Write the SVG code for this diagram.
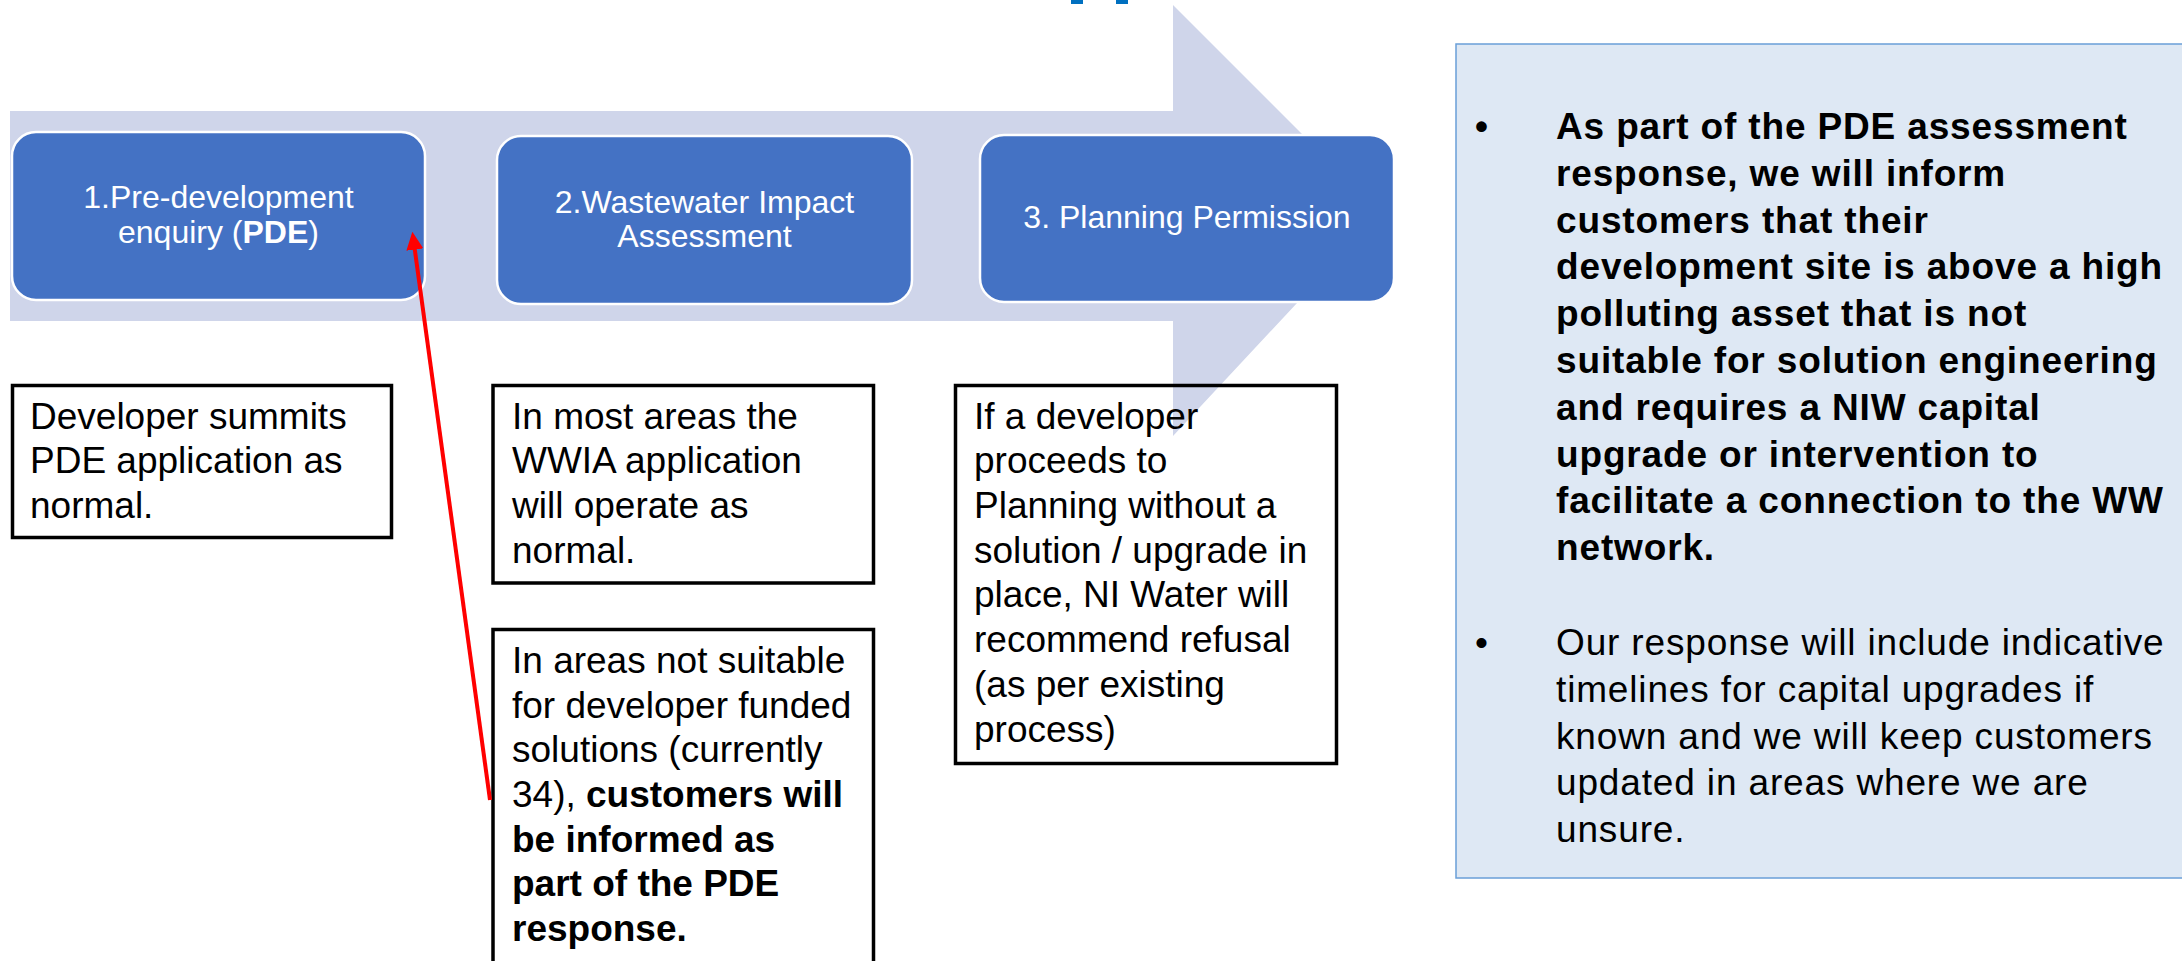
<svg xmlns="http://www.w3.org/2000/svg" width="2182" height="961" viewBox="0 0 2182 961">
<style>
.step{fill:#4472C4;stroke:#ffffff;stroke-width:2.5}
.stept{font-family:"Liberation Sans",Arial,sans-serif;font-size:32px;fill:#ffffff;text-anchor:middle}
.note{fill:none;stroke:#000000;stroke-width:3.5}
.notet{font-family:"Liberation Sans",Arial,sans-serif;font-size:37px;fill:#000000}
.b{font-weight:bold}
.panel{fill:#DEE8F4;stroke:#6A9FD8;stroke-width:1.5}
.panelt{font-family:"Liberation Sans",Arial,sans-serif;font-size:37px;fill:#000000;letter-spacing:0.85px}
.conn{stroke:#FF0000;stroke-width:4;fill:none}
.frag{fill:#0070C0}
</style>
<defs>
<marker id="redhead" markerUnits="userSpaceOnUse" markerWidth="18" markerHeight="17" refX="8" refY="8.5" orient="auto">
<path d="M0,0 L18,8.5 L0,17 Z" fill="#FF0000"/>
</marker>
</defs>
<rect width="2182" height="961" fill="#ffffff"/>
<g id="title-fragment">
<rect class="frag" x="1071" y="0" width="12" height="4"/>
<rect class="frag" x="1116" y="0" width="12" height="4"/>
</g>
<g id="process-arrow">
<polygon points="10,111 1173,111 1173,5 1381,213 1173,436 1173,321 10,321" fill="#CFD5EA"/>
</g>
<g id="step1">
<rect class="step" x="12" y="132" width="413" height="168" rx="24"/>
<text class="stept" x="218.5" y="208.3">1.Pre-development</text>
<text class="stept" x="218.5" y="242.7">enquiry (<tspan class="b">PDE</tspan>)</text>
</g>
<g id="step2">
<rect class="step" x="497" y="136" width="415" height="168" rx="24"/>
<text class="stept" x="704.5" y="212.7">2.Wastewater Impact</text>
<text class="stept" x="704.5" y="246.7">Assessment</text>
</g>
<g id="step3">
<rect class="step" x="980" y="135" width="414" height="167" rx="24"/>
<text class="stept" x="1187" y="228.3">3. Planning Permission</text>
</g>
<g id="note-pde">
<rect class="note" x="12.5" y="385.5" width="379" height="152"/>
<text class="notet" x="30" y="428.6">Developer summits</text>
<text class="notet" x="30" y="473.3">PDE application as</text>
<text class="notet" x="30" y="518">normal.</text>
</g>
<g id="note-wwia">
<rect class="note" x="493" y="385.5" width="380.5" height="197.5"/>
<text class="notet" x="512" y="428.6">In most areas the</text>
<text class="notet" x="512" y="473.3">WWIA application</text>
<text class="notet" x="512" y="518">will operate as</text>
<text class="notet" x="512" y="562.7">normal.</text>
</g>
<g id="note-unsuitable">
<rect class="note" x="493" y="629.5" width="380.5" height="345"/>
<text class="notet" x="512" y="672.9">In areas not suitable</text>
<text class="notet" x="512" y="717.6">for developer funded</text>
<text class="notet" x="512" y="762.3">solutions (currently</text>
<text class="notet" x="512" y="807">34), <tspan class="b">customers will</tspan></text>
<text class="notet b" x="512" y="851.7">be informed as</text>
<text class="notet b" x="512" y="896.4">part of the PDE</text>
<text class="notet b" x="512" y="941.1">response.</text>
</g>
<g id="note-planning">
<rect class="note" x="955.5" y="385.5" width="381" height="378"/>
<text class="notet" x="974" y="428.6">If a developer</text>
<text class="notet" x="974" y="473.3">proceeds to</text>
<text class="notet" x="974" y="518">Planning without a</text>
<text class="notet" x="974" y="562.7">solution / upgrade in</text>
<text class="notet" x="974" y="607.4">place, NI Water will</text>
<text class="notet" x="974" y="652.1">recommend refusal</text>
<text class="notet" x="974" y="696.8">(as per existing</text>
<text class="notet" x="974" y="741.5">process)</text>
</g>
<g id="info-panel">
<rect class="panel" x="1456" y="44" width="740" height="834"/>
<text class="panelt b" x="1475" y="139">•</text>
<text class="panelt b" x="1556" y="139">As part of the PDE assessment</text>
<text class="panelt b" x="1556" y="185.8">response, we will inform</text>
<text class="panelt b" x="1556" y="232.6">customers that their</text>
<text class="panelt b" x="1556" y="279.4">development site is above a high</text>
<text class="panelt b" x="1556" y="326.2">polluting asset that is not</text>
<text class="panelt b" x="1556" y="373">suitable for solution engineering</text>
<text class="panelt b" x="1556" y="419.8">and requires a NIW capital</text>
<text class="panelt b" x="1556" y="466.6">upgrade or intervention to</text>
<text class="panelt b" x="1556" y="513.4">facilitate a connection to the WW</text>
<text class="panelt b" x="1556" y="560.2">network.</text>
<text class="panelt" x="1475" y="655">•</text>
<text class="panelt" x="1556" y="655">Our response will include indicative</text>
<text class="panelt" x="1556" y="701.8">timelines for capital upgrades if</text>
<text class="panelt" x="1556" y="748.6">known and we will keep customers</text>
<text class="panelt" x="1556" y="795.4">updated in areas where we are</text>
<text class="panelt" x="1556" y="842.2">unsure.</text>
</g>
<g id="connectors">
<line class="conn" x1="490" y1="800" x2="413.7" y2="241.6" marker-end="url(#redhead)"/>
</g>
</svg>
